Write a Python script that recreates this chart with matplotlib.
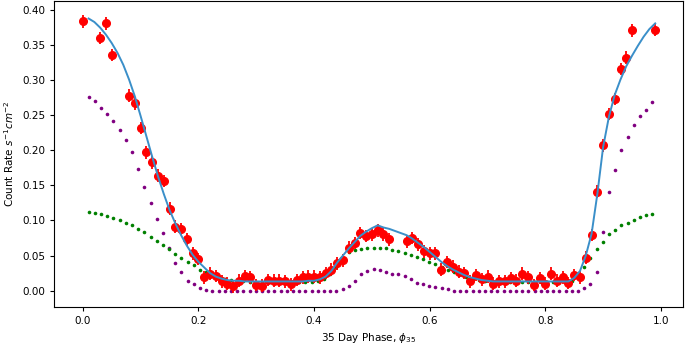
import numpy as np
import matplotlib
matplotlib.use("Agg")
import matplotlib.pyplot as plt

# observed count rate per 35 day phase bin
obs_phase = [0.00, 0.03, 0.04, 0.05,
             0.08, 0.09, 0.10, 0.11, 0.12, 0.13, 0.14, 0.15, 0.16, 0.17,
             0.18, 0.19, 0.20, 0.21, 0.22, 0.23, 0.24, 0.25, 0.26, 0.27,
             0.28, 0.29, 0.30, 0.31, 0.32, 0.33, 0.34, 0.35, 0.36, 0.37,
             0.38, 0.39, 0.40, 0.41, 0.42, 0.43, 0.44, 0.45, 0.46, 0.47,
             0.48, 0.49, 0.50, 0.51, 0.52, 0.53,
             0.56, 0.57, 0.58, 0.59, 0.60, 0.61, 0.62, 0.63, 0.64, 0.65,
             0.66, 0.67, 0.68, 0.69, 0.70, 0.71, 0.72, 0.73, 0.74, 0.75,
             0.76, 0.77, 0.78, 0.79, 0.80, 0.81, 0.82, 0.83, 0.84, 0.85,
             0.86, 0.87, 0.88, 0.89, 0.90, 0.91, 0.92, 0.93, 0.94, 0.95,
             0.99]
obs_rate = [0.384, 0.360, 0.381, 0.336,
            0.278, 0.267, 0.232, 0.197, 0.183, 0.164, 0.156, 0.117, 0.091, 0.088,
            0.073, 0.053, 0.045, 0.019, 0.024, 0.021, 0.013, 0.010, 0.006, 0.014,
            0.021, 0.019, 0.008, 0.007, 0.015, 0.014, 0.014, 0.013, 0.009, 0.015,
            0.019, 0.020, 0.020, 0.019, 0.025, 0.030, 0.039, 0.043, 0.061, 0.068,
            0.082, 0.078, 0.080, 0.086, 0.080, 0.073,
            0.070, 0.075, 0.066, 0.056, 0.053, 0.053, 0.030, 0.041, 0.034, 0.027,
            0.025, 0.013, 0.022, 0.016, 0.020, 0.010, 0.013, 0.013, 0.018, 0.014,
            0.024, 0.019, 0.008, 0.018, 0.010, 0.024, 0.014, 0.019, 0.011, 0.022,
            0.019, 0.047, 0.079, 0.141, 0.207, 0.252, 0.273, 0.316, 0.332, 0.371,
            0.372]
obs_err = 0.009

# model components, evaluated on 92 phases
model_phase = np.linspace(0.01, 0.985, 92)
comp_a = [0.276, 0.270, 0.261, 0.252, 0.242, 0.229, 0.215, 0.197, 0.173, 0.147,
          0.125, 0.102, 0.082, 0.061, 0.040, 0.027, 0.014, 0.009, 0.004, 0.001,
          0, 0, 0, 0, 0, 0, 0, 0, 0, 0,
          0, 0, 0, 0, 0, 0, 0, 0, 0, 0, 0,
          0.002, 0.007, 0.014, 0.023, 0.028, 0.031, 0.029, 0.026, 0.024,
          0.024, 0.021, 0.017, 0.011, 0.009, 0.006, 0.005, 0.003, 0.002,
          0, 0, 0, 0, 0, 0, 0, 0, 0, 0,
          0, 0, 0, 0, 0, 0, 0, 0, 0, 0, 0,
          0.003, 0.010, 0.027, 0.083, 0.140, 0.172, 0.201, 0.219, 0.236,
          0.249, 0.258, 0.269]
comp_b = [0.112, 0.110, 0.109, 0.106, 0.104, 0.101, 0.097, 0.093, 0.088, 0.083,
          0.077, 0.071, 0.065, 0.059, 0.052, 0.046, 0.041, 0.036, 0.030, 0.027,
          0.024, 0.020, 0.017, 0.015, 0.014, 0.013,
          0.012, 0.012, 0.012, 0.012, 0.012, 0.012, 0.012, 0.012, 0.012, 0.012, 0.012,
          0.013, 0.016, 0.023, 0.034, 0.046, 0.055, 0.058, 0.059, 0.060, 0.061,
          0.061, 0.060, 0.058, 0.056, 0.054, 0.051, 0.048, 0.045, 0.041, 0.038,
          0.034, 0.030, 0.026, 0.023, 0.020, 0.017, 0.015, 0.014, 0.013,
          0.012, 0.012, 0.012, 0.012, 0.012, 0.012, 0.012, 0.012, 0.012, 0.012,
          0.012, 0.012,
          0.013, 0.020, 0.033, 0.046, 0.059, 0.069, 0.080, 0.087, 0.094, 0.097,
          0.101, 0.105, 0.108, 0.109]

# total model curve
fit_phase = np.round(np.arange(1, 100) / 100, 2)
fit_rate = [0.388, 0.383, 0.375, 0.365, 0.353, 0.339, 0.322, 0.301, 0.277, 0.249,
            0.220, 0.191, 0.163, 0.138, 0.115, 0.096, 0.079, 0.064, 0.051, 0.041,
            0.033, 0.025, 0.020, 0.017, 0.015, 0.014, 0.014, 0.013, 0.013, 0.013,
            0.013, 0.013, 0.013, 0.013, 0.013, 0.013, 0.013, 0.013, 0.014, 0.014,
            0.016, 0.020, 0.028, 0.040, 0.050, 0.060, 0.069, 0.078, 0.084, 0.089,
            0.093, 0.090, 0.088, 0.085, 0.082, 0.079, 0.074, 0.068, 0.062, 0.055,
            0.048, 0.041, 0.035, 0.030, 0.026, 0.022, 0.019, 0.017, 0.015, 0.014,
            0.013, 0.013, 0.013, 0.013, 0.013, 0.013, 0.013, 0.013, 0.013, 0.013,
            0.013, 0.013, 0.013, 0.013, 0.018, 0.028, 0.050, 0.081, 0.138, 0.205,
            0.248, 0.279, 0.301, 0.320, 0.335, 0.349, 0.362, 0.373, 0.381]

fig = plt.figure(figsize=(6.85, 3.46), dpi=100)
ax = fig.add_axes([0.079, 0.114, 0.918, 0.883])

ax.plot(model_phase, comp_a, 'o', color='purple', markersize=2.6, markeredgewidth=0)
ax.plot(model_phase, comp_b, 'o', color='green', markersize=2.6, markeredgewidth=0)
ax.errorbar(obs_phase, obs_rate, yerr=obs_err, fmt='o', color='red',
            markersize=5.5, elinewidth=1.3, capsize=0, zorder=3)
ax.plot(fit_phase, fit_rate, color='#3a8fc9', linewidth=1.4, zorder=4)

ax.set_xlim(-0.0496, 1.038)
ax.set_ylim(-0.0228, 0.4129)
ax.set_xticks([0.0, 0.2, 0.4, 0.6, 0.8, 1.0])
ax.set_yticks(np.arange(0, 0.41, 0.05))
ax.tick_params(labelsize=7.5, length=3)
ax.set_xlabel(r'35 Day Phase, $\phi_{35}$', fontsize=7.5)
ax.set_ylabel(r'Count Rate $s^{-1} cm^{-2}$', fontsize=7.5)

fig.savefig('out.png', dpi=100)
